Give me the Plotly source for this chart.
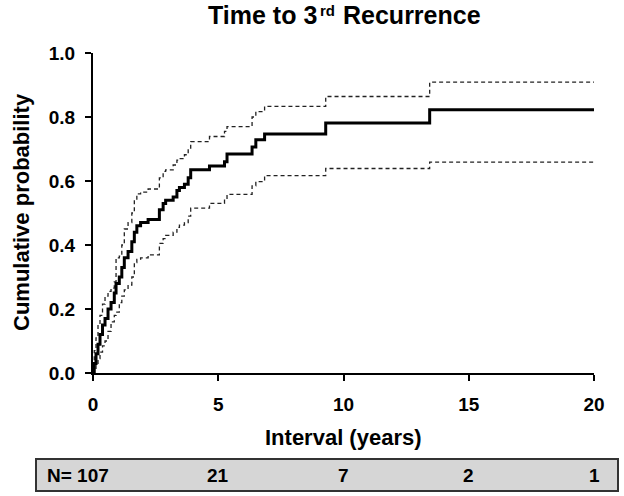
import plotly.graph_objects as go

# Step times (years) and cumulative probabilities
times = [0, 0.05, 0.12, 0.2, 0.28, 0.38, 0.48, 0.6, 0.72, 0.85, 0.92, 1.05, 1.15, 1.25,
         1.4, 1.55, 1.65, 1.75, 1.9, 2.2, 2.65, 2.8, 2.9, 3.2, 3.35, 3.45, 3.65, 3.8,
         3.9, 4.65, 5.25, 5.35, 6.35, 6.5, 6.85, 9.29, 13.44, 20]
estimate = [0, 0.03, 0.06, 0.09, 0.12, 0.15, 0.17, 0.20, 0.22, 0.25, 0.28, 0.30, 0.33, 0.36,
            0.38, 0.41, 0.44, 0.46, 0.47, 0.48, 0.51, 0.53, 0.54, 0.55, 0.57, 0.58, 0.59, 0.61,
            0.635, 0.647, 0.66, 0.684, 0.706, 0.729, 0.747, 0.781, 0.823, 0.823]
upper_ci = [0, 0.07, 0.11, 0.15, 0.18, 0.215, 0.24, 0.255, 0.265, 0.285, 0.36, 0.365, 0.40, 0.45,
            0.47, 0.50, 0.54, 0.56, 0.565, 0.575, 0.61, 0.63, 0.635, 0.65, 0.665, 0.67, 0.682, 0.70,
            0.723, 0.739, 0.755, 0.77, 0.80, 0.817, 0.833, 0.864, 0.909, 0.909]
lower_ci = [0, 0.01, 0.025, 0.045, 0.065, 0.085, 0.10, 0.13, 0.16, 0.18, 0.19, 0.22, 0.24, 0.26,
            0.275, 0.30, 0.345, 0.355, 0.36, 0.369, 0.405, 0.42, 0.43, 0.44, 0.455, 0.462, 0.47, 0.49,
            0.515, 0.53, 0.54, 0.558, 0.585, 0.598, 0.617, 0.639, 0.659, 0.659]

# Number at risk table
risk_times = [0, 5, 10, 15, 20]
risk_labels = ["N= 107", "21", "7", "2", "1"]

title_main = "Time to 3"
title_sup = "rd"
title_rest = "Recurrence"
x_title = "Interval (years)"
y_title = "Cumulative probability"
x_ticks = [0, 5, 10, 15, 20]
y_ticks = [0.0, 0.2, 0.4, 0.6, 0.8, 1.0]

FONT = "Arial, Liberation Sans, sans-serif"

# plot area in page pixels (page body margin is removed below)
L, T = 93, 53
PW, PH = 501, 320
W, H = 624, 496


def px_to_paper_x(sx):
    return (sx - L) / PW


def px_to_paper_y(sy):
    return 1 - (sy - T) / PH


fig = go.Figure()
for vals in (upper_ci, lower_ci):
    fig.add_trace(go.Scatter(x=times, y=vals, mode="lines", line_shape="hv",
                             line=dict(color="#222222", width=1.3, dash="4px,3px"),
                             showlegend=False, hoverinfo="skip"))
fig.add_trace(go.Scatter(x=times, y=estimate, mode="lines", line_shape="hv",
                         line=dict(color="black", width=3), showlegend=False))

fig.update_layout(
    width=W, height=H,
    margin=dict(l=L, r=W - L - PW, t=T, b=H - T - PH, autoexpand=False),
    paper_bgcolor="white", plot_bgcolor="white",
    font=dict(family=FONT, color="black"),
    xaxis=dict(range=[0, 20], tickvals=x_ticks, showgrid=False, zeroline=False,
               showline=True, linecolor="black", linewidth=2,
               ticks="outside", ticklen=6, tickwidth=2, tickcolor="black",
               tickfont=dict(family=FONT, size=19, weight="bold"),
               ticklabelstandoff=7),
    yaxis=dict(range=[0, 1], tickvals=y_ticks, tickformat=".1f", showgrid=False, zeroline=False,
               showline=True, linecolor="black", linewidth=2,
               ticks="outside", ticklen=6, tickwidth=2, tickcolor="black",
               tickfont=dict(family=FONT, size=19, weight="bold"),
               ticklabelstandoff=6),
)

# Title split in three parts so the superscript stays inside the page
fig.add_annotation(text=title_main, xref="paper", yref="paper",
                   x=px_to_paper_x(319), y=px_to_paper_y(15),
                   showarrow=False, xanchor="right", yanchor="middle",
                   font=dict(family=FONT, size=25, weight="bold"))
fig.add_annotation(text=title_sup, xref="paper", yref="paper",
                   x=px_to_paper_x(318), y=px_to_paper_y(10),
                   showarrow=False, xanchor="left", yanchor="middle",
                   font=dict(family=FONT, size=15, weight="bold"))
fig.add_annotation(text=title_rest, xref="paper", yref="paper",
                   x=px_to_paper_x(341), y=px_to_paper_y(15),
                   showarrow=False, xanchor="left", yanchor="middle",
                   font=dict(family=FONT, size=25, weight="bold"))
fig.add_annotation(text=x_title, xref="paper", yref="paper",
                   x=px_to_paper_x(343), y=px_to_paper_y(437),
                   showarrow=False, xanchor="center", yanchor="middle",
                   font=dict(family=FONT, size=22, weight="bold"))
fig.add_annotation(text=y_title, xref="paper", yref="paper",
                   x=px_to_paper_x(21), y=px_to_paper_y(212),
                   showarrow=False, xanchor="center", yanchor="middle", textangle=-90,
                   font=dict(family=FONT, size=22, weight="bold"))

# Risk table box
fig.add_shape(type="rect", xref="paper", yref="paper",
              x0=px_to_paper_x(36), x1=px_to_paper_x(618),
              y0=px_to_paper_y(491), y1=px_to_paper_y(459),
              fillcolor="#d6d6d6", line=dict(color="#333333", width=2), layer="below")
for t, lab in zip(risk_times, risk_labels):
    fig.add_annotation(text=lab, x=t, xref="x", xshift=(18 if t == 0 else 0),
                       yref="paper", y=px_to_paper_y(475),
                       showarrow=False, xanchor=("right" if t == 0 else "center"),
                       yanchor="middle",
                       font=dict(family=FONT, size=19, weight="bold"))

fig.write_html("out.html", config={"displayModeBar": False},
               post_script="document.body.style.margin='0px';document.body.style.overflow='hidden';")
